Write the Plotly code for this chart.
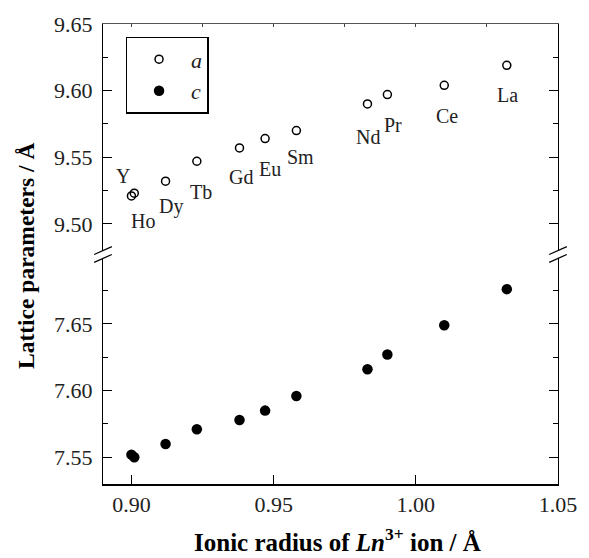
import plotly.graph_objects as go

# Ionic radii (Å) of the Ln3+ ions and the refined lattice parameters (Å)
ions = ["Y", "Ho", "Dy", "Tb", "Gd", "Eu", "Sm", "Nd", "Pr", "Ce", "La"]
radius = [0.900, 0.901, 0.912, 0.923, 0.938, 0.947, 0.958, 0.983, 0.990, 1.010, 1.032]
a_param = [9.521, 9.523, 9.532, 9.547, 9.557, 9.564, 9.570, 9.590, 9.597, 9.604, 9.619]
c_param = [7.552, 7.550, 7.560, 7.571, 7.578, 7.585, 7.596, 7.616, 7.627, 7.649, 7.676]

x_ticks = [0.90, 0.95, 1.00, 1.05]
a_ticks = [9.50, 9.55, 9.60, 9.65]
c_ticks = [7.55, 7.60, 7.65]

# pixel offsets of each element label from its point (dx right, dy down)
label_dx = [-8, 9, 5, 4, 1, 5, 4, 1, 6, 3, 1]
label_dy = [-20, 28, 25, 31, 29, 30, 26, 33, 30, 31, 30]

SERIF = "Liberation Serif"
TXT = "#222"

fig = go.Figure()
fig.add_trace(go.Scatter(
    x=radius, y=a_param, mode="markers", name="<i>a</i>",
    xaxis="x2", yaxis="y2",
    marker=dict(symbol="circle-open", size=8, color="black", line=dict(width=1.5, color="black")),
))
fig.add_trace(go.Scatter(
    x=radius, y=c_param, mode="markers", name="<i>c</i>",
    xaxis="x", yaxis="y",
    marker=dict(symbol="circle", size=10.5, color="black"),
))

for name, x, y, dx, dy in zip(ions, radius, a_param, label_dx, label_dy):
    fig.add_annotation(
        x=x, y=y, xref="x2", yref="y2", text=name, showarrow=False,
        xshift=dx, yshift=-dy, font=dict(family=SERIF, size=20, color=TXT),
    )

# frame geometry in paper units
L, R, T, B = 103, 22, 21, 74
W, H = 589, 558
pw, ph = W - L - R, H - T - B
top_dom = [1 - 228 / ph, 1]
bot_dom = [0, 227 / ph]

def px_to_paper(px, py):
    return (px - L) / pw, (H - B - py) / ph

tickfont = dict(family=SERIF, size=22, color=TXT)
common_y = dict(
    ticks="inside", ticklen=9, tickwidth=1.2, tickcolor="black",
    showline=True, linecolor="black", linewidth=1.3, mirror="ticks",
    showgrid=False, zeroline=False, tickfont=tickfont, ticklabelstandoff=5,
)

fig.update_layout(
    width=W, height=H,
    margin=dict(l=L, r=R, t=T, b=B),
    paper_bgcolor="white", plot_bgcolor="white",
    showlegend=True,
    legend=dict(
        x=(126 - L) / pw, y=1 - (34 - T) / ph, xanchor="left", yanchor="top",
        bordercolor="black", borderwidth=1.5, bgcolor="white",
        font=dict(family=SERIF, size=22, color=TXT), itemwidth=54,
        tracegroupgap=2,
    ),
    xaxis=dict(
        domain=[0, 1], anchor="y", range=[0.89, 1.05],
        tickvals=x_ticks, ticktext=[f"{v:.2f}" for v in x_ticks],
        ticks="inside", ticklen=9, tickwidth=1.2, tickcolor="black",
        showline=True, linecolor="black", linewidth=1.5,
        showgrid=False, zeroline=False, tickfont=tickfont, ticklabelstandoff=0,
    ),
    xaxis2=dict(
        domain=[0, 1], anchor="y2", side="top", matches="x", range=[0.89, 1.05],
        showticklabels=False, ticks="inside", ticklen=3, tickcolor="#444",
        tick0=0.9, dtick=0.025,
        showline=True, linecolor="#555", linewidth=1.2,
        showgrid=False, zeroline=False,
    ),
    yaxis=dict(
        domain=bot_dom, anchor="x", range=[7.53, 7.699],
        tickvals=c_ticks, ticktext=[f"{v:.2f}" for v in c_ticks],
        minor=dict(tickvals=[7.575, 7.625, 7.675], ticks="inside", ticklen=5, tickcolor="black"),
        **common_y,
    ),
    yaxis2=dict(
        domain=top_dom, anchor="x2", range=[9.48, 9.65],
        tickvals=a_ticks, ticktext=[f"{v:.2f}" for v in a_ticks],
        minor=dict(tickvals=[9.525, 9.575, 9.625], ticks="inside", ticklen=5, tickcolor="black"),
        **common_y,
    ),
)

# x title
tx, ty = px_to_paper(342, 540)
fig.add_annotation(
    x=tx, y=ty, xref="paper", yref="paper", xanchor="center", yanchor="middle",
    text="<b>Ionic radius of <i>Ln</i><sup>3+</sup> ion / Å</b>", showarrow=False,
    font=dict(family=SERIF, size=25, color="black"),
)

# y title spanning both panels
yx, yy = px_to_paper(25, 255)
fig.add_annotation(
    x=yx, y=yy, xref="paper", yref="paper", xanchor="center", yanchor="middle",
    textangle=-90, text="<b>Lattice parameters / Å</b>", showarrow=False,
    font=dict(family=SERIF, size=23.5, color="black"),
)

# axis-break marks on both spines
for spine_x in (L, W - R):
    for y_left, y_right in ((253, 245), (261, 253)):
        x0, y0 = px_to_paper(spine_x - 9, y_left)
        x1, y1 = px_to_paper(spine_x + 9, y_right)
        fig.add_shape(type="line", xref="paper", yref="paper",
                      x0=x0, y0=y0, x1=x1, y1=y1,
                      line=dict(color="black", width=1.3))

fig.write_html("out.html")
